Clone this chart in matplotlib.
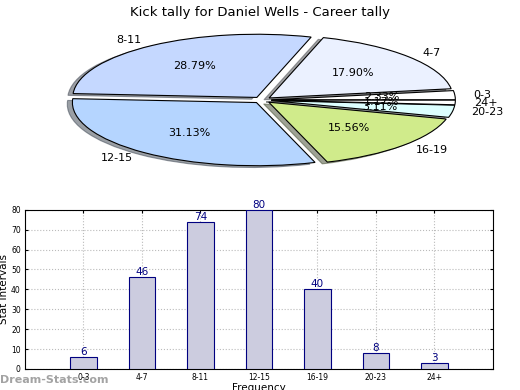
import matplotlib
matplotlib.use("Agg")
import matplotlib.pyplot as plt

# ---- data ----
categories = ["0-3", "4-7", "8-11", "12-15", "16-19", "20-23", "24+"]
counts = [6, 46, 74, 80, 40, 8, 3]
pie_colors = ["#ffffff", "#ebf1ff", "#c5d8ff", "#b5d5ff", "#d0eb8b", "#ddffff", "#ffffff"]
y_ticks = [0, 10, 20, 30, 40, 50, 60, 70, 80]

BAR_FC = "#ccccdf"
NAVY = "#000080"

fig = plt.figure(figsize=(5.2, 3.9), dpi=100)
fig.patch.set_facecolor("white")

# ---- pie (squashed ellipse) ----
axp = fig.add_axes([0.0615, 0.541, 0.885, 0.405])
axp.pie(counts, labels=categories, colors=pie_colors, explode=[0.05] * len(counts),
        autopct="%.2f%%", pctdistance=0.6, labeldistance=1.1, startangle=0,
        shadow=True, wedgeprops=dict(edgecolor="black", linewidth=0.8),
        textprops=dict(fontsize=8))
axp.set_aspect("auto")
axp.set_xlim(-1.25, 1.25)
axp.set_ylim(-1.25, 1.25)
fig.text(0.5, 0.985, "Kick tally for Daniel Wells - Career tally",
         ha="center", va="top", fontsize=9.5)

# ---- bar chart ----
ax = fig.add_axes([0.048, 0.054, 0.9, 0.408])
x = list(range(len(categories)))
bars = ax.bar(x, counts, width=0.45, color=BAR_FC, edgecolor=NAVY, linewidth=0.8, zorder=3)
for b, v in zip(bars, counts):
    ax.text(b.get_x() + b.get_width() / 2, v, str(v), ha="center", va="bottom",
            color=NAVY, fontsize=7.5, clip_on=False, zorder=4)
ax.set_xlim(-1, 7)
ax.set_ylim(0, 80)
ax.set_xticks(x)
ax.set_xticklabels(categories)
ax.set_yticks(y_ticks)
ax.tick_params(labelsize=5.5, direction="in", top=True, right=True, length=2, pad=3)
ax.grid(True, linestyle=":", color="#bbbbbb", linewidth=0.8, zorder=0)
ax.set_ylabel("Stat Intervals", fontsize=7.5)
ax.yaxis.set_label_coords(-0.035, 0.5)
ax.set_xlabel("Frequency", fontsize=7.5, labelpad=1)

fig.text(0.0, 0.026, "Dream-Stats.com", ha="left", va="center", fontsize=8,
         fontweight="bold", color="#999999", alpha=0.9)

fig.savefig("out.png", dpi=100, facecolor="white")
